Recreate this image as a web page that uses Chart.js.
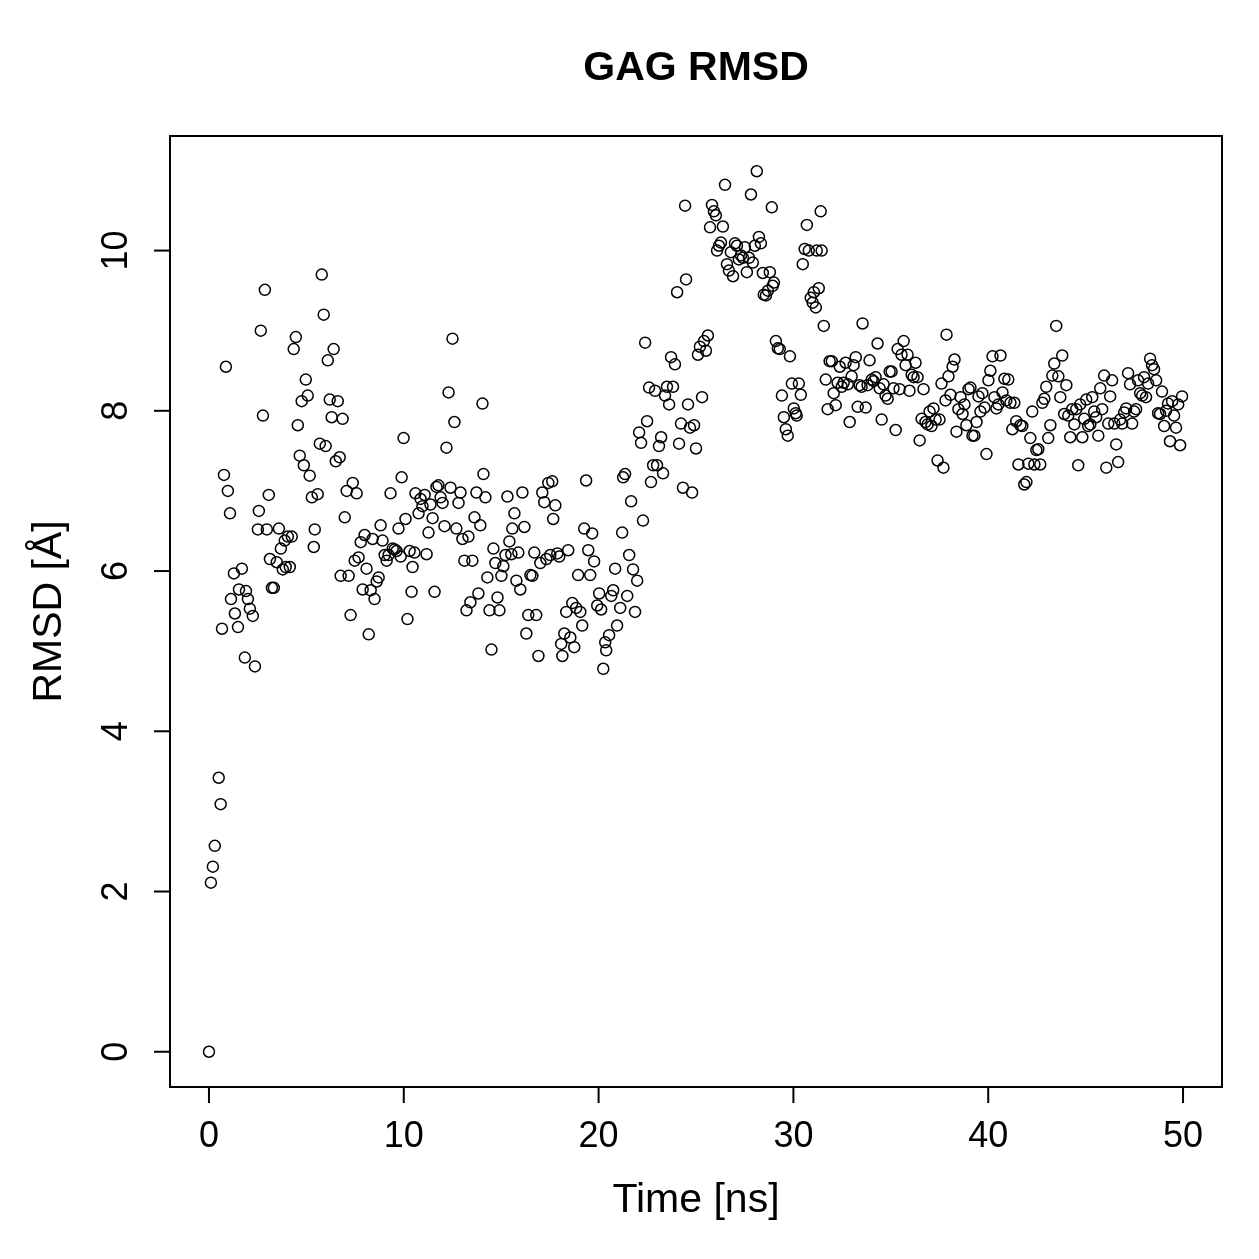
<!DOCTYPE html>
<html>
<head>
<meta charset="utf-8">
<script src="https://cdn.jsdelivr.net/npm/chart.js@4.4.0/dist/chart.umd.min.js"></script>
<style>
  html, body { margin: 0; padding: 0; background: #fff; }
</style>
</head>
<body>
<canvas id="chart" width="1259" height="1259"></canvas>
<script>
// time in ns
const timeNs = [
  0.0, 0.1, 0.2, 0.3, 0.5, 0.6, 0.67, 0.77, 0.87, 0.97,
  1.08, 1.13, 1.28, 1.33, 1.49, 1.54, 1.69, 1.84, 1.90, 2.00,
  2.10, 2.25, 2.36, 2.51, 2.56, 2.66, 2.77, 2.87, 2.97, 3.07,
  3.13, 3.23, 3.33, 3.48, 3.59, 3.69, 3.79, 3.89, 3.94, 4.05,
  4.15, 4.25, 4.35, 4.46, 4.56, 4.66, 4.76, 4.87, 4.97, 5.07,
  5.17, 5.28, 5.38, 5.43, 5.58, 5.69, 5.79, 5.89, 5.99, 6.10,
  6.20, 6.30, 6.40, 6.51, 6.61, 6.71, 6.76, 6.86, 6.97, 7.07,
  7.17, 7.27, 7.38, 7.48, 7.58, 7.68, 7.79, 7.89, 7.99, 8.09,
  8.20, 8.30, 8.40, 8.50, 8.61, 8.71, 8.81, 8.91, 9.02, 9.12,
  9.22, 9.32, 9.43, 9.53, 9.63, 9.73, 9.84, 9.89, 9.99, 10.09,
  10.19, 10.30, 10.40, 10.45, 10.55, 10.60, 10.76, 10.86, 10.96, 11.07,
  11.17, 11.27, 11.37, 11.48, 11.58, 11.68, 11.78, 11.89, 11.99, 12.09,
  12.19, 12.30, 12.40, 12.50, 12.60, 12.70, 12.81, 12.91, 13.01, 13.11,
  13.22, 13.32, 13.42, 13.52, 13.63, 13.73, 13.83, 13.93, 14.04, 14.09,
  14.19, 14.29, 14.40, 14.50, 14.60, 14.70, 14.81, 14.91, 15.01, 15.11,
  15.22, 15.32, 15.42, 15.52, 15.57, 15.68, 15.78, 15.88, 15.98, 16.09,
  16.19, 16.29, 16.39, 16.50, 16.60, 16.70, 16.80, 16.91, 17.01, 17.11,
  17.21, 17.32, 17.42, 17.52, 17.62, 17.67, 17.78, 17.88, 17.98, 18.08,
  18.14, 18.24, 18.34, 18.44, 18.55, 18.65, 18.75, 18.85, 18.95, 19.06,
  19.16, 19.26, 19.36, 19.47, 19.57, 19.67, 19.77, 19.93, 20.03, 20.13,
  20.24, 20.34, 20.39, 20.54, 20.65, 20.75, 20.85, 20.95, 21.11, 21.21,
  21.26, 21.36, 21.47, 21.57, 21.67, 21.77, 21.87, 21.98, 22.08, 22.18,
  22.28, 22.39, 22.49, 22.59, 22.69, 22.80, 22.90, 23.00, 23.10, 23.21,
  23.31, 23.41, 23.51, 23.62, 23.72, 23.82, 23.92, 24.03, 24.13, 24.23,
  24.33, 24.44, 24.49, 24.59, 24.69, 24.80, 24.90, 25.00, 25.10, 25.20,
  25.31, 25.41, 25.51, 25.61, 25.72, 25.82, 25.92, 26.02, 26.08, 26.18,
  26.28, 26.38, 26.49, 26.59, 26.69, 26.79, 26.90, 27.00, 27.10, 27.20,
  27.31, 27.41, 27.51, 27.61, 27.72, 27.82, 27.92, 28.02, 28.12, 28.23,
  28.33, 28.43, 28.48, 28.59, 28.69, 28.79, 28.89, 28.94, 29.00, 29.10,
  29.20, 29.30, 29.41, 29.51, 29.61, 29.71, 29.82, 29.92, 30.02, 30.12,
  30.17, 30.28, 30.38, 30.48, 30.58, 30.69, 30.79, 30.89, 30.99, 31.05,
  31.15, 31.20, 31.30, 31.40, 31.45, 31.56, 31.66, 31.76, 31.86, 31.97,
  32.07, 32.17, 32.27, 32.38, 32.48, 32.58, 32.68, 32.79, 32.89, 32.99,
  33.09, 33.20, 33.30, 33.40, 33.50, 33.55, 33.71, 33.81, 33.91, 34.02,
  34.12, 34.22, 34.32, 34.43, 34.53, 34.63, 34.73, 34.84, 34.94, 35.04,
  35.14, 35.25, 35.35, 35.45, 35.55, 35.66, 35.76, 35.86, 35.96, 36.07,
  36.17, 36.27, 36.37, 36.48, 36.58, 36.68, 36.78, 36.89, 36.99, 37.09,
  37.19, 37.30, 37.40, 37.50, 37.60, 37.70, 37.81, 37.86, 37.96, 38.06,
  38.17, 38.27, 38.37, 38.47, 38.58, 38.68, 38.78, 38.88, 38.99, 39.09,
  39.19, 39.29, 39.40, 39.50, 39.60, 39.70, 39.81, 39.91, 40.01, 40.11,
  40.22, 40.32, 40.42, 40.52, 40.63, 40.73, 40.83, 40.93, 41.03, 41.14,
  41.24, 41.34, 41.44, 41.55, 41.65, 41.75, 41.85, 41.96, 42.06, 42.16,
  42.26, 42.37, 42.47, 42.57, 42.67, 42.78, 42.88, 42.98, 43.08, 43.19,
  43.29, 43.39, 43.49, 43.60, 43.70, 43.80, 43.90, 44.01, 44.11, 44.21,
  44.31, 44.42, 44.52, 44.62, 44.72, 44.83, 44.93, 45.03, 45.13, 45.24,
  45.34, 45.44, 45.54, 45.65, 45.75, 45.85, 45.95, 46.06, 46.16, 46.26,
  46.36, 46.47, 46.57, 46.67, 46.77, 46.88, 46.98, 47.08, 47.18, 47.28,
  47.39, 47.49, 47.59, 47.69, 47.80, 47.90, 48.00, 48.10, 48.21, 48.31,
  48.41, 48.51, 48.62, 48.72, 48.82, 48.92, 49.03, 49.13, 49.23, 49.33,
  49.44, 49.54, 49.64, 49.75, 49.85, 49.95
];

// RMSD in Angstrom, same order as timeNs
const rmsd = [
  0.00, 2.11, 2.31, 2.57, 3.42, 3.09, 5.28, 7.20, 8.55, 7.00,
  6.72, 5.65, 5.97, 5.47, 5.30, 5.77, 6.03, 4.92, 5.75, 5.65,
  5.53, 5.44, 4.81, 6.52, 6.75, 9.00, 7.94, 9.51, 6.52, 6.95,
  6.15, 5.79, 5.79, 6.11, 6.53, 6.28, 6.02, 6.38, 6.05, 6.43,
  6.05, 6.43, 8.77, 8.92, 7.82, 7.44, 8.12, 7.32, 8.39, 8.19,
  7.19, 6.92, 6.30, 6.52, 6.96, 7.59, 9.70, 9.20, 7.56, 8.63,
  8.14, 7.92, 8.77, 7.37, 8.12, 7.42, 5.94, 7.90, 6.67, 7.00,
  5.94, 5.45, 7.10, 6.13, 6.97, 6.17, 6.36, 5.77, 6.45, 6.03,
  5.21, 5.76, 6.40, 5.65, 5.87, 5.92, 6.57, 6.38, 6.20, 6.13,
  6.20, 6.97, 6.28, 6.27, 6.25, 6.53, 6.18, 7.17, 7.66, 6.65,
  5.40, 6.25, 5.74, 6.05, 6.23, 6.97, 6.72, 6.90, 6.81, 6.95,
  6.21, 6.48, 6.83, 6.66, 5.74, 7.05, 7.07, 6.92, 6.85, 6.56,
  7.54, 8.23, 7.04, 8.90, 7.86, 6.53, 6.85, 6.98, 6.40, 6.13,
  5.51, 6.43, 5.61, 6.13, 6.67, 6.98, 5.72, 6.57, 8.09, 7.21,
  6.92, 5.92, 5.51, 5.02, 6.28, 6.10, 5.67, 5.51, 5.94, 6.06,
  6.20, 6.93, 6.37, 6.21, 6.53, 6.72, 5.88, 6.23, 5.77, 6.98,
  6.55, 5.22, 5.45, 5.95, 5.94, 6.23, 5.45, 4.94, 6.10, 6.98,
  6.86, 6.15, 7.10, 6.20, 7.12, 6.65, 6.82, 6.22, 6.18, 5.09,
  4.94, 5.22, 5.49, 6.26, 5.17, 5.60, 5.05, 5.54, 5.95, 5.49,
  5.32, 6.53, 7.13, 6.26, 5.95, 6.47, 6.12, 5.57, 5.72, 5.52,
  4.78, 5.11, 5.01, 5.20, 5.69, 5.76, 6.03, 5.32, 5.54, 6.48,
  7.17, 7.21, 5.69, 6.20, 6.87, 6.02, 5.49, 5.88, 7.73, 7.60,
  6.63, 8.85, 7.87, 8.29, 7.11, 7.32, 8.25, 7.32, 7.56, 7.67,
  7.22, 8.19, 8.30, 8.08, 8.67, 8.30, 8.58, 9.48, 7.59, 7.84,
  7.04, 10.56, 9.64, 8.08, 7.79, 6.98, 7.82, 7.53, 8.70, 8.80,
  8.17, 8.87, 8.75, 8.94, 10.29, 10.57, 10.49, 10.44, 10.00, 10.06,
  10.10, 10.30, 10.82, 9.83, 9.75, 9.98, 9.68, 10.09, 10.06, 9.89,
  9.94, 9.91, 10.04, 9.73, 9.91, 10.70, 9.85, 10.06, 10.99, 10.17,
  10.09, 9.72, 9.45, 9.44, 9.50, 9.73, 10.54, 9.56, 9.60, 8.87,
  8.78, 8.77, 8.19, 7.92, 7.77, 7.69, 8.68, 8.34, 8.03, 7.97,
  7.94, 8.34, 8.20, 9.83, 10.02, 10.32, 10.00, 9.41, 9.35, 9.48,
  9.29, 10.00, 9.53, 10.49, 10.00, 9.06, 8.39, 8.02, 8.62, 8.62,
  8.22, 8.07, 8.35, 8.55, 8.30, 8.35, 8.60, 8.33, 7.86, 8.43,
  8.57, 8.67, 8.05, 8.32, 8.30, 9.09, 8.04, 8.32, 8.63, 8.39,
  8.37, 8.42, 8.84, 8.28, 7.89, 8.33, 8.19, 8.15, 8.49, 8.49,
  8.28, 7.76, 8.77, 8.27, 8.70, 8.87, 8.57, 8.70, 8.25, 8.45,
  8.42, 8.60, 8.42, 7.63, 7.90, 8.27, 7.86, 7.83, 7.99, 7.81,
  8.03, 7.89, 7.38, 7.89, 8.34, 7.29, 8.13, 8.95, 8.43, 8.20,
  8.55, 8.64, 7.74, 8.02, 8.17, 7.96, 8.08, 7.82, 8.27, 8.29,
  7.69, 7.69, 7.86, 8.18, 7.99, 8.22, 8.04, 7.46, 8.38, 8.50,
  8.68, 8.17, 8.03, 8.08, 8.69, 8.23, 8.40, 8.13, 8.39, 8.10,
  7.77, 8.10, 7.87, 7.33, 7.82, 7.81, 7.08, 7.11, 7.34, 7.66,
  7.99, 7.33, 7.51, 7.52, 7.33, 8.10, 8.15, 8.30, 7.66, 7.82,
  8.44, 8.59, 9.06, 8.43, 8.17, 8.69, 7.96, 8.32, 7.94, 7.67,
  8.02, 7.83, 8.02, 7.32, 8.08, 7.67, 7.90, 8.14, 7.81, 7.83,
  8.17, 7.99, 7.92, 7.69, 8.28, 8.02, 8.44, 7.29, 7.84, 8.18,
  8.38, 7.84, 7.58, 7.36, 7.89, 7.84, 7.98, 8.03, 8.47, 8.33,
  7.84, 7.99, 8.02, 8.38, 8.22, 8.19, 8.42, 8.17, 8.34, 8.65,
  8.57, 8.52, 8.38, 7.97, 7.96, 8.24, 7.81, 8.00, 8.09, 7.62,
  8.12, 7.94, 7.79, 8.08, 7.57, 8.18
];

const xTicks = [0, 10, 20, 30, 40, 50];
const yTicks = [0, 2, 4, 6, 8, 10];
const chartTitle = "GAG RMSD";
const xLabel = "Time [ns]";
const yLabel = "RMSD [Å]";

const points = timeNs.map((t, i) => ({ x: t, y: rmsd[i] }));

// R-style frame, ticks and labels, drawn from the chart's own scales
const rAxes = {
    id: 'rAxes',
    afterDraw(chart) {
        const ctx = chart.ctx;
        const area = chart.chartArea;
        const xs = chart.scales.x;
        const ys = chart.scales.y;
        const family = '"Liberation Sans", Arial, sans-serif';

        ctx.save();
        ctx.strokeStyle = '#000';
        ctx.fillStyle = '#000';
        ctx.lineWidth = 2;
        ctx.strokeRect(area.left, area.top, area.right - area.left, area.bottom - area.top);

        ctx.font = '36px ' + family;
        ctx.textAlign = 'center';
        ctx.textBaseline = 'middle';
        xTicks.forEach(v => {
            const px = xs.getPixelForValue(v);
            ctx.beginPath();
            ctx.moveTo(px, area.bottom);
            ctx.lineTo(px, area.bottom + 16);
            ctx.stroke();
            ctx.fillText(String(v), px, 1137);
        });

        yTicks.forEach(v => {
            const py = ys.getPixelForValue(v);
            ctx.beginPath();
            ctx.moveTo(area.left, py);
            ctx.lineTo(area.left - 16, py);
            ctx.stroke();
            ctx.save();
            ctx.translate(117, py);
            ctx.rotate(-Math.PI / 2);
            ctx.fillText(String(v), 0, 0);
            ctx.restore();
        });

        ctx.font = '41px ' + family;
        ctx.fillText(xLabel, (area.left + area.right) / 2, 1201);
        ctx.save();
        ctx.translate(50, (area.top + area.bottom) / 2);
        ctx.rotate(-Math.PI / 2);
        ctx.fillText(yLabel, 0, 0);
        ctx.restore();

        ctx.font = 'bold 41px ' + family;
        ctx.fillText(chartTitle, (area.left + area.right) / 2, 69);
        ctx.restore();
    }
};

const ctx = document.getElementById("chart").getContext("2d");
const myChart = new Chart(ctx, {
    type: 'scatter',
    data: {
        datasets: [{
            label: 'RMSD',
            data: points,
            pointStyle: 'circle',
            pointRadius: 5.5,
            pointHoverRadius: 5.5,
            pointBorderWidth: 1.5,
            borderColor: '#000',
            backgroundColor: 'rgba(0,0,0,0)'
        }]
    },
    options: {
        responsive: false,
        animation: false,
        layout: { padding: { left: 170, top: 136, right: 37, bottom: 172 } },
        plugins: {
            legend: { display: false },
            tooltip: { enabled: false }
        },
        scales: {
            x: { type: 'linear', display: false, min: -2, max: 52 },
            y: { type: 'linear', display: false, min: -0.44, max: 11.43 }
        }
    },
    plugins: [rAxes]
});
</script>
</body>
</html>
